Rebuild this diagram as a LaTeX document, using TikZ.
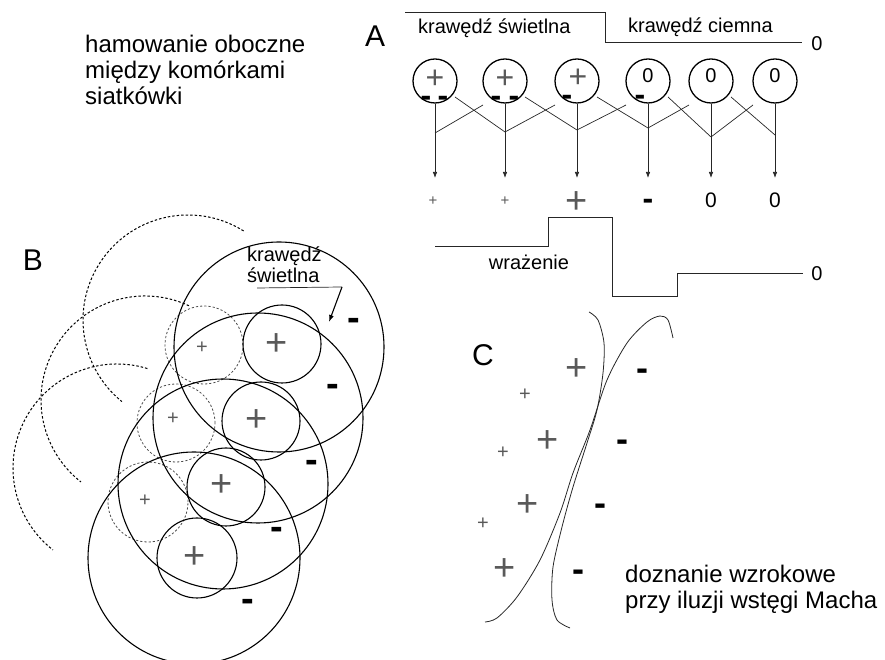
\documentclass[tikz,border=0pt]{standalone}
\usepackage{fontspec}
\setmainfont{Liberation Sans}
\usetikzlibrary{arrows.meta,calc}
\newcommand\myfs[1]{\fontsize{#1}{#1}\selectfont}
\begin{document}
\begin{tikzpicture}[x=1pt,y=1pt,
  lbl/.style={inner sep=0, font=\myfs{20}},
  bigl/.style={inner sep=0, font=\myfs{30}},
  txt/.style={inner sep=0, anchor=base west, font=\myfs{24}},
  pl/.style={inner sep=0, text=black!65, font=\myfs{#1}, yshift={-0.06*#1}},
  mn/.style={inner sep=0, font=\bfseries\myfs{#1}, yshift={-0.1*#1}},
  zr/.style={inner sep=0, font=\myfs{#1}},
  cell/.style={circle, draw, line width=1.3pt, minimum size=44pt, inner sep=0},
  thinl/.style={line width=0.7pt, black!85},
  arr/.style={thinl, -{Latex[length=6pt,width=4.5pt]}},
  sc/.style={line width=1.1pt},
  dc/.style={line width=0.8pt, black!70, dash pattern=on 2.2pt off 2pt},
  da/.style={line width=1pt, dash pattern=on 2.5pt off 2pt},
  curve/.style={line width=0.8pt, black!85}
]
\useasboundingbox (0,0) rectangle (885,660);

% top-left text
\node[txt] (t1) at (85,607) {hamowanie oboczne};
\node[txt] (t2) at (85,581) {między komórkami};
\node[txt] (t3) at (85,555) {siatkówki};

% ---------- A ----------
\node[bigl] (A) at (375,624) {A};
\draw[thinl] (405,648) -- (605,648) -- (605,618) -- (802,618);
\node[lbl, anchor=base west] (ks) at (418,626) {krawędź świetlna};
\node[lbl, anchor=base west] (kc) at (628,627) {krawędź ciemna};
\node[lbl] (z0) at (817,616) {0};

\foreach \i/\x in {1/435,2/505,3/577,4/648,5/711,6/775}
  \node[cell] (c\i) at (\x,579) {};

% labels inside the cells
\node[pl=32] (p1) at (435,583) {+};
\node[mn=32] (m1a) at (426,562) {-};
\node[mn=32] (m1b) at (443,562) {-};
\node[pl=32] (p2) at (505,583) {+};
\node[mn=32] (m2a) at (496,562) {-};
\node[mn=32] (m2b) at (514,562) {-};
\node[pl=32] (p3) at (578,584) {+};
\node[mn=32] (m3) at (567,563) {-};
\node[zr=20] (n4) at (648,584) {0};
\node[mn=32] (m4) at (640,563) {-};
\node[zr=20] (n5) at (711,584) {0};
\node[zr=20] (n6) at (775,584) {0};

% junctions and arrow tips
\coordinate (j1) at (435,527);
\coordinate (j2) at (505,528);
\coordinate (j3) at (577,530);
\coordinate (j4) at (648,532);
\coordinate (j5) at (711,523);
\coordinate (j6) at (775,525);
\foreach \i/\x in {1/435,2/505,3/577,4/648,5/711,6/775}
  \coordinate (o\i) at (\x,482);

\foreach \i in {1,...,6}
  \draw[arr] (c\i.south) -- (o\i);
\foreach \i/\j in {1/2,2/3,3/4,4/5,5/6}
  \draw[thinl] ($(c\i)+(20,-16)$) -- (j\j);
\foreach \i/\j in {2/1,3/2,4/3,5/4,6/5}
  \draw[thinl] ($(c\i)+(-22,-24)$) -- (j\j);

% outputs
\node[pl=15] (q1) at (433,460) {+};
\node[pl=15] (q2) at (505,460) {+};
\node[pl=38] (q3) at (577,460) {+};
\node[mn=32] (q4) at (648,459) {-};
\node[zr=21] (q5) at (711,460) {0};
\node[zr=21] (q6) at (775,460) {0};

% sensation profile
\draw[thinl] (435,414) -- (548,414) -- (548,443) -- (612,443) -- (612,364)
  -- (677,364) -- (677,387) -- (803,387);
\node[lbl] (z1) at (817,386) {0};
\node[lbl] (wr) at (529,398) {wrażenie};

% ---------- B ----------
\node[bigl] (B) at (33,400) {B};
% dashed surround arcs
\draw[da] (188,340) ++(58:105) arc[start angle=58, end angle=231, radius=105];
\draw[da] (145,260) ++(65:104) arc[start angle=65, end angle=232, radius=104];
\draw[da] (117,192) ++(73:104) arc[start angle=73, end angle=232, radius=104];
% dashed centres
\draw[dc] (204,315) circle[radius=39];
\draw[dc] (176,237) circle[radius=39];
\draw[dc] (148,158) circle[radius=40];
% solid surrounds
\draw[sc] (279,313) circle[radius=105];
\draw[sc] (258,242) circle[radius=105];
\draw[sc] (223,176) circle[radius=105];
\draw[sc] (194,102) circle[radius=106];
% solid centres
\draw[sc] (282,316) circle[radius=39];
\draw[sc] (261,239) circle[radius=39];
\draw[sc] (226,173) circle[radius=39];
\draw[sc] (197,102) circle[radius=40];
% signs
\node[pl=38] (bp1) at (277,318) {+};
\node[pl=38] (bp2) at (257,242) {+};
\node[pl=38] (bp3) at (222,177) {+};
\node[pl=38] (bp4) at (195,105) {+};
\node[pl=20] (bs1) at (202,313) {+};
\node[pl=20] (bs2) at (173,242) {+};
\node[pl=20] (bs3) at (145,160) {+};
\node[mn=38] (bm1) at (354,339) {-};
\node[mn=38] (bm2) at (333,273) {-};
\node[mn=38] (bm3) at (312,197) {-};
\node[mn=38] (bm4) at (277,130) {-};
\node[mn=38] (bm5) at (248,58) {-};
% edge label
\node[lbl, anchor=base west] (kb1) at (247,398) {krawędź};
\node[lbl, anchor=base west] (kb2) at (247,377) {świetlna};
\coordinate (u1) at (257,372);
\coordinate (u2) at (342,373);
\coordinate (u3) at (329,338);
\draw[thinl] (u1) -- (u2);
\draw[line width=1.1pt, -{Latex[length=7pt,width=5pt]}] (u2) -- (u3);

% ---------- C ----------
\node[bigl] (C) at (483,305) {C};
\draw[curve] plot[smooth] coordinates {(589,348) (598,340) (604,317) (603,287)
  (597,250) (587,217) (573,173) (562,133) (553,93) (552,60) (557,40) (570,32)};
\draw[curve] plot[smooth] coordinates {(673,322) (668,340) (660,344) (647,338)
  (627,317) (607,280) (590,230) (573,187) (560,147) (540,100) (517,63) (497,42) (485,38)};
\node[pl=38] (cp1) at (577,293) {+};
\node[pl=38] (cp2) at (548,221) {+};
\node[pl=38] (cp3) at (528,157) {+};
\node[pl=38] (cp4) at (505,93) {+};
\node[pl=20] (cs1) at (525,266) {+};
\node[pl=20] (cs2) at (503,208) {+};
\node[pl=20] (cs3) at (483,137) {+};
\node[mn=36] (cm1) at (642,289) {-};
\node[mn=36] (cm2) at (622,218) {-};
\node[mn=36] (cm3) at (600,154) {-};
\node[mn=36] (cm4) at (578,88) {-};
\node[txt] (d1) at (625,77) {doznanie wzrokowe};
\node[txt] (d2) at (625,51) {przy iluzji wstęgi Macha};
\end{tikzpicture}
\end{document}
